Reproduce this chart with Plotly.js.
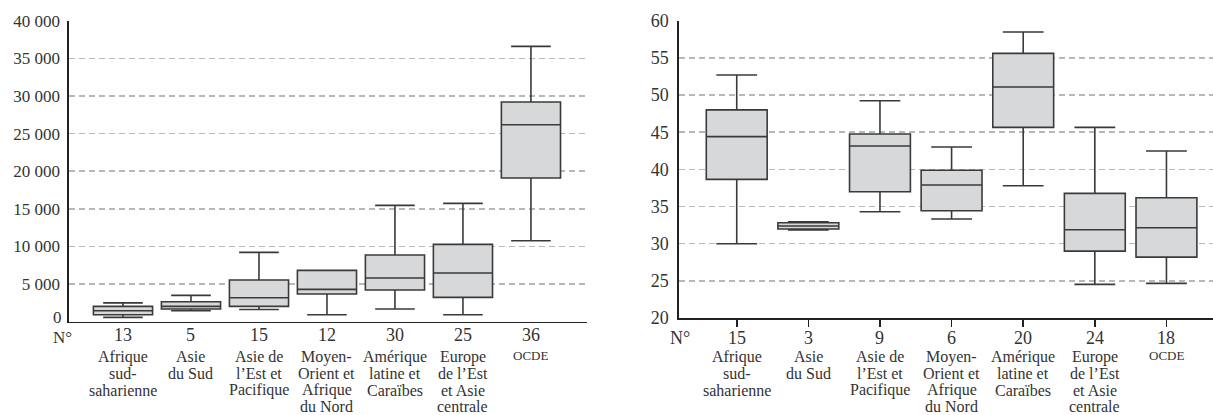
<!DOCTYPE html>
<html>
<head>
<meta charset="utf-8">
<script src="https://cdn.plot.ly/plotly-3.0.1.min.js"></script>
<style>html,body{margin:0;padding:0;background:#fff;}#chart{width:1213px;height:415px;}</style>
</head>
<body>
<div id="chart"></div>
<script>
// ---- Data ----
const regionLines = [
  ["Afrique","sud-","saharienne"],
  ["Asie","du Sud"],
  ["Asie de","l\u2019Est et","Pacifique"],
  ["Moyen-","Orient et","Afrique","du Nord"],
  ["Am\u00e9rique","latine et","Cara\u00efbes"],
  ["Europe","de l\u2019Est","et Asie","centrale"],
  ["OCDE"]
];
const countsLeft  = [13, 5, 15, 12, 30, 25, 36];
const countsRight = [15, 3, 9, 6, 20, 24, 18];

// Left panel
const leftLower  = [570, 1460, 1630, 930, 1690, 930, 10760];
const leftQ1     = [930, 1690, 2030, 3680, 4210, 3230, 19100];
const leftMedian = [1460, 2030, 3190, 4290, 5800, 6470, 26180];
const leftQ3     = [2030, 2660, 5540, 6820, 8860, 10270, 29200];
const leftUpper  = [2500, 3500, 9210, 6820, 15460, 15720, 36590];

// Right panel
const rightLower  = [30.0, 31.83, 34.29, 33.31, 37.79, 24.52, 24.66];
const rightQ1     = [38.65, 31.97, 36.99, 34.43, 45.65, 29.0, 28.19];
const rightMedian = [44.4, 32.37, 43.14, 37.89, 51.08, 31.87, 32.14];
const rightQ3     = [48.0, 32.81, 44.75, 39.87, 55.61, 36.77, 36.18];
const rightUpper  = [52.69, 32.95, 49.23, 43.0, 58.48, 45.65, 42.46];

const leftTickVals  = [0, 5000, 10000, 15000, 20000, 25000, 30000, 35000, 40000];
const leftTickText  = ["0","5 000","10 000","15 000","20 000","25 000","30 000","35 000","40 000"];
const rightTickVals = [20, 25, 30, 35, 40, 45, 50, 55, 60];

// ---- Chart ----
const W = 1213, H = 415;
const FONT = "'Liberation Serif', 'Times New Roman', Times, serif";
const TXT = "#333";
const pos = regionLines.map((_, i) => i);

function boxTrace(xa, ya, lo, q1, med, q3, up, width) {
  return {
    type: "box", xaxis: xa, yaxis: ya, x: pos,
    lowerfence: lo, q1: q1, median: med, q3: q3, upperfence: up,
    boxpoints: false, width: width, whiskerwidth: 0.67,
    fillcolor: "#d7d8da", line: {color: "#3a3a3a", width: 1.6},
    hoverinfo: "skip", showlegend: false
  };
}

const data = [
  boxTrace("x", "y", leftLower, leftQ1, leftMedian, leftQ3, leftUpper, 0.87),
  boxTrace("x2", "y2", rightLower, rightQ1, rightMedian, rightQ3, rightUpper, 0.85)
];

function py(px) { return (H - px) / H; }

const annotations = [];
function addLabels(xref, counts, numY) {
  counts.forEach((n, i) => {
    annotations.push({xref: xref, yref: "paper", x: i, y: py(numY), text: String(n),
      showarrow: false, xanchor: "center", yanchor: "middle", borderpad: 0,
      font: {family: FONT, size: 18, color: TXT}});
    regionLines[i].forEach((ln, k) => {
      const isSmall = ln === "OCDE";
      annotations.push({xref: xref, yref: "paper", x: i,
        y: py(isSmall ? 355 : 356.5 + k * 16.8), text: ln,
        showarrow: false, xanchor: "center", yanchor: "middle", borderpad: 0,
        font: {family: FONT, size: isSmall ? 13 : 16, color: TXT}});
    });
  });
}
addLabels("x", countsLeft, 335);
addLabels("x2", countsRight, 338);
annotations.push({xref: "paper", yref: "paper", x: 62.5 / W, y: py(337.5), text: "N\u00b0", borderpad: 0,
  showarrow: false, xanchor: "center", yanchor: "middle", font: {family: FONT, size: 17, color: TXT}});
annotations.push({xref: "paper", yref: "paper", x: 680 / W, y: py(338), text: "N\u00b0", borderpad: 0,
  showarrow: false, xanchor: "center", yanchor: "middle", font: {family: FONT, size: 18, color: TXT}});
// "0" label on the left axis (no gridline drawn at zero)
annotations.push({xref: "paper", yref: "y", x: 63 / W, y: leftTickVals[0], text: leftTickText[0], borderpad: 0,
  yshift: 4, showarrow: false, xanchor: "right", yanchor: "middle", font: {family: FONT, size: 17, color: TXT}});

const gridStyle = {showgrid: true, gridcolor: "#b8b8b8", gridwidth: 1.5, griddash: "6px,4px"};

const layout = {
  width: W, height: H,
  margin: {l: 0, r: 0, t: 0, b: 0, pad: 0},
  paper_bgcolor: "#fff", plot_bgcolor: "rgba(0,0,0,0)",
  showlegend: false,
  font: {family: FONT, color: TXT},
  xaxis: {domain: [69 / W, 586.7 / W], range: [-0.794, 6.82], showgrid: false, zeroline: false,
    showticklabels: false, showline: true, linecolor: "#222", linewidth: 1.6, ticks: "", anchor: "y", fixedrange: true},
  yaxis: Object.assign({domain: [py(321.7), py(20.7)], range: [0, 40000], zeroline: false,
    tickvals: leftTickVals.slice(1), ticktext: leftTickText.slice(1), showline: true, linecolor: "#222", linewidth: 1.6,
    ticks: "", tickfont: {family: FONT, size: 17, color: TXT}, anchor: "x", automargin: false, ticklabelstandoff: 4}, gridStyle),
  xaxis2: {domain: [679 / W, 1], range: [-0.806, 6.65], showgrid: false, zeroline: false,
    showticklabels: false, showline: true, linecolor: "#222", linewidth: 1.6, ticks: "outside", ticklen: 7,
    tickwidth: 1.6, tickcolor: "#222", tickvals: pos, anchor: "y2", fixedrange: true},
  yaxis2: Object.assign({domain: [py(318), py(20.7)], range: [20, 60], zeroline: false,
    tickvals: rightTickVals, showline: true, linecolor: "#222", linewidth: 1.6,
    ticks: "", tickfont: {family: FONT, size: 18, color: TXT}, anchor: "x2", automargin: false, ticklabelstandoff: 5}, gridStyle),
  annotations: annotations
};

Plotly.newPlot("chart", data, layout, {staticPlot: true, displayModeBar: false});
</script>
</body>
</html>
